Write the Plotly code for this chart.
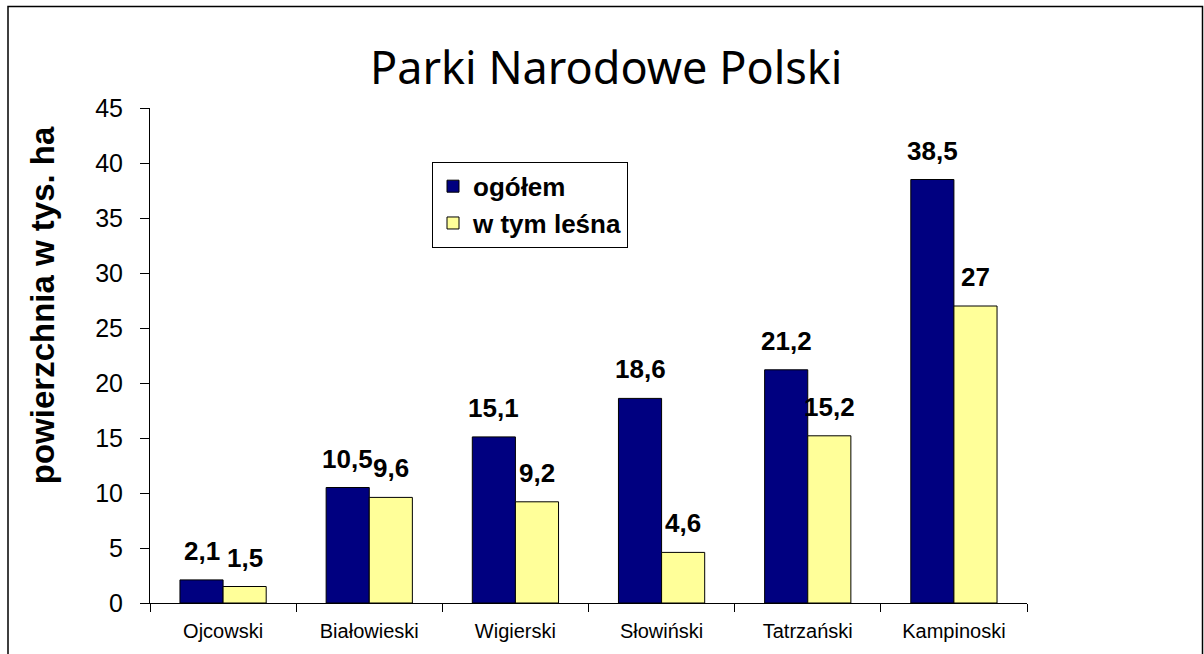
import plotly.graph_objects as go

categories = ["Ojcowski", "Białowieski", "Wigierski", "Słowiński", "Tatrzański", "Kampinoski"]
ogolem = [2.1, 10.5, 15.1, 18.6, 21.2, 38.5]
lesna = [1.5, 9.6, 9.2, 4.6, 15.2, 27]
series_names = ["ogółem", "w tym leśna"]
y_ticks = [0, 5, 10, 15, 20, 25, 30, 35, 40, 45]
title_text = "Parki Narodowe Polski"
y_title = "powierzchnia w tys. ha"

W, H = 1204, 654
L, R, T, B = 150, 177, 108, 49
PW, PH = W - L - R, H - T - B


def px_x(px):
    return (px - L) / PW


def px_y(py):
    return (H - B - py) / PH


def fmt(v):
    return f"{v:g}".replace(".", ",")


fig = go.Figure()
fig.add_trace(go.Bar(x=categories, y=ogolem, name=series_names[0],
                     marker=dict(color="#000080", line=dict(color="black", width=1))))
fig.add_trace(go.Bar(x=categories, y=lesna, name=series_names[1],
                     marker=dict(color="#FFFF99", line=dict(color="black", width=1))))

bar_px = PW / len(categories) * 0.59 / 2
for vals, sign in ((ogolem, -1), (lesna, 1)):
    for c, v in zip(categories, vals):
        fig.add_annotation(x=c, y=v, text=fmt(v), showarrow=False, xref="x", yref="y",
                           xshift=sign * bar_px / 2, yanchor="bottom", yshift=12,
                           font=dict(family="Liberation Sans", size=26, color="black", weight="bold"))

fig.add_annotation(text=title_text, xref="paper", yref="paper", x=px_x(606), y=px_y(66),
                   xanchor="center", yanchor="middle", showarrow=False,
                   font=dict(family="Noto Sans", size=45, color="black"))
fig.add_annotation(text=y_title, xref="paper", yref="paper", x=px_x(42), y=px_y(306),
                   xanchor="center", yanchor="middle", textangle=-90, showarrow=False,
                   font=dict(family="Liberation Sans", size=33, color="black", weight="bold"))

fig.add_shape(type="rect", xref="paper", yref="paper",
              x0=px_x(8), x1=px_x(1202.5), y0=px_y(700), y1=px_y(6),
              line=dict(color="black", width=1.5), fillcolor="rgba(0,0,0,0)", layer="below")

fig.update_layout(
    width=W, height=H,
    margin=dict(l=L, r=R, t=T, b=B),
    paper_bgcolor="white", plot_bgcolor="white",
    barmode="group", bargap=0.41, bargroupgap=0,
    separators=", ",
    showlegend=True,
    legend=dict(x=px_x(432), y=px_y(162), xanchor="left", yanchor="top",
                bordercolor="black", borderwidth=1, bgcolor="white",
                font=dict(family="Liberation Sans", size=26, color="black", weight="bold"),
                itemwidth=30, tracegroupgap=4),
    font=dict(family="Liberation Sans", color="black"),
)
fig.update_xaxes(showline=True, linecolor="black", linewidth=1, ticks="outside",
                 tickson="boundaries", ticklen=8, tickcolor="black", showgrid=False,
                 tickfont=dict(size=20, color="black"), ticklabelstandoff=10)
fig.update_yaxes(range=[0, 45], tickvals=y_ticks, showline=True, linecolor="black", linewidth=1,
                 ticks="outside", ticklen=9, tickcolor="black", showgrid=False, zeroline=False,
                 tickfont=dict(size=25, color="black"), ticklabelstandoff=12)

fig.write_html("out.html", config={"displayModeBar": False},
               post_script="document.body.style.margin='0';document.body.style.overflow='hidden';")
